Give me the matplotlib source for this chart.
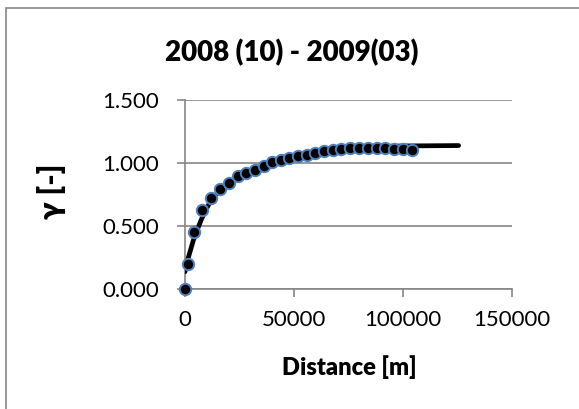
import matplotlib
matplotlib.use("Agg")
import matplotlib.pyplot as plt
from matplotlib.patches import Rectangle

plt.rcParams['font.family'] = ['Lato', 'DejaVu Sans']

lag = [0, 1540, 4150, 8000, 11850, 15850, 20000, 24150, 28150, 32000,
       36150, 40150, 44150, 48000, 52000, 55850, 59850, 63850, 68000, 71850,
       75850, 80000, 84000, 88000, 92000, 96000, 100150, 104150]
gamma = [0.000, 0.197, 0.455, 0.631, 0.726, 0.792, 0.844, 0.894, 0.923, 0.947,
         0.976, 1.005, 1.026, 1.042, 1.055, 1.068, 1.078, 1.092, 1.102, 1.115,
         1.118, 1.118, 1.118, 1.123, 1.120, 1.115, 1.110, 1.105]

# fitted model curve
model_h = [0, 1500, 3850, 5800, 7690, 9600, 11540, 13800, 16160, 20000, 23850,
           31540, 39240, 46940, 54620, 62330, 70030, 77720, 85410, 100800, 125700]
model_g = [0.139, 0.250, 0.389, 0.480, 0.560, 0.630, 0.692, 0.742, 0.784, 0.842, 0.884,
           0.942, 0.994, 1.034, 1.068, 1.092, 1.113, 1.126, 1.131, 1.136, 1.139]

xticks = [0, 50000, 100000, 150000]
yticks = [0.0, 0.5, 1.0, 1.5]

grey = '#868686'

fig = plt.figure(figsize=(5.79, 4.09), dpi=100)
fig.patches.append(Rectangle((6/579, -0.1), 1.2, 1 - 8.5/409 + 0.1,
                             transform=fig.transFigure, fill=False,
                             edgecolor=grey, lw=1.2))

ax = fig.add_axes([185/579, 1 - 289.3/409, (511.5 - 185)/579, (289.3 - 100)/409])
ax.plot(model_h, model_g, color='black', lw=3.4, solid_capstyle='round', zorder=2)
ax.plot(lag, gamma, 'o', color='black', markersize=8.2,
        markeredgecolor='#4F81BD', markeredgewidth=1.4, zorder=3, clip_on=False)

ax.set_xlim(0, 150000)
ax.set_ylim(0, 1.5)
ax.set_xticks(xticks)
ax.set_yticks(yticks)
ax.set_xticklabels([str(v) for v in xticks])
ax.set_yticklabels(['%.3f' % v for v in yticks])
ax.yaxis.grid(True, color=grey, lw=1.2)
ax.set_axisbelow(True)
for s in ['top', 'right']:
    ax.spines[s].set_visible(False)
for s in ['left', 'bottom']:
    ax.spines[s].set_color(grey)
    ax.spines[s].set_linewidth(1.2)
    ax.spines[s].set_zorder(1)
ax.tick_params(axis='both', direction='out', length=5.8, width=1.2, color=grey,
               labelsize=16, labelcolor='black')
ax.tick_params(axis='y', pad=13)
ax.tick_params(axis='x', pad=9)

fig.text(292/579, 1 - 53/409, '2008 (10) - 2009(03)', ha='center', va='center',
         fontsize=20, fontweight='heavy')
fig.text(349/579, 1 - 367/409, 'Distance [m]', ha='center', va='center',
         fontsize=17, fontweight='heavy')
fig.text(52/579, 1 - 191/409, 'γ [-]', rotation=90, ha='center', va='center',
         fontsize=22, fontweight='heavy')

fig.savefig('out.png', dpi=100)
